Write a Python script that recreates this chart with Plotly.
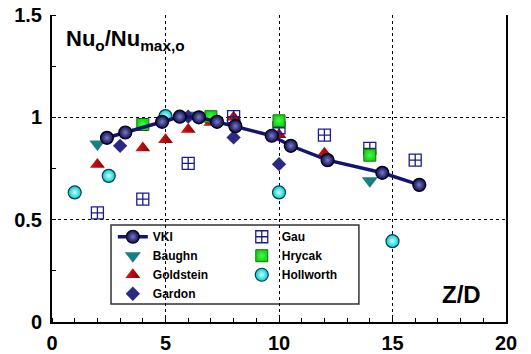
import plotly.graph_objects as go

# ---- data ----
vki_x = [2.42, 3.23, 4.85, 5.63, 6.47, 7.27, 8.08, 9.68, 10.52, 12.14, 14.55, 16.18]
vki_y = [0.900, 0.926, 0.978, 1.003, 1.000, 0.978, 0.957, 0.910, 0.861, 0.791, 0.729, 0.670]

baughn_x = [2, 6, 14]
baughn_y = [0.87, 1.01, 0.69]

goldstein_x = [2, 4, 5, 6, 7, 8, 10, 12]
goldstein_y = [0.77, 0.85, 0.89, 0.94, 0.975, 1.00, 0.915, 0.825]

gardon_x = [3, 6, 8, 10]
gardon_y = [0.861, 1.003, 0.902, 0.771]

gau_x = [2, 4, 6, 8, 10, 12, 14, 16]
gau_y = [0.533, 0.600, 0.775, 1.003, 0.949, 0.913, 0.848, 0.791]

hrycak_x = [4, 7, 10, 14]
hrycak_y = [0.965, 1.003, 0.983, 0.815]

hollworth_x = [1, 2.5, 5, 10, 15]
hollworth_y = [0.633, 0.714, 1.006, 0.633, 0.395]

x_ticks = [0, 5, 10, 15, 20]
x_tick_labels = ["0", "5", "10", "15", "20"]
y_ticks = [0, 0.5, 1, 1.5]
y_tick_labels = ["0", "0.5", "1", "1.5"]

NAVY = "#14146e"
LEGFONT = dict(size=12, family="Liberation Sans, Arial", weight="bold", color="black")

fig = go.Figure()

fig.add_trace(go.Scatter(
    x=baughn_x, y=baughn_y, mode="markers", name="Baughn", legend="legend", legendrank=2,
    marker=dict(symbol="triangle-down", size=14, color="#1a7f7f", line=dict(width=0)),
))
fig.add_trace(go.Scatter(
    x=goldstein_x, y=goldstein_y, mode="markers", name="Goldstein", legend="legend", legendrank=3,
    marker=dict(symbol="triangle-up", size=13, color="#d81818",
                gradient=dict(type="horizontal", color="#8a0000"), line=dict(width=0)),
))
fig.add_trace(go.Scatter(
    x=gardon_x, y=gardon_y, mode="markers", name="Gardon", legend="legend", legendrank=4,
    marker=dict(symbol="diamond", size=11, color="#2a2a80", line=dict(width=0)),
))
fig.add_trace(go.Scatter(
    x=gau_x, y=gau_y, mode="markers", name="Gau", legend="legend2", legendrank=5,
    marker=dict(symbol="square-cross-open", size=12, color="#1c1c8c", line=dict(width=1.3)),
))
fig.add_trace(go.Scatter(
    x=hrycak_x, y=hrycak_y, mode="markers", name="Hrycak", legend="legend2", legendrank=6,
    marker=dict(symbol="square", size=12, color="#18d018",
                gradient=dict(type="radial", color="#40ff40"),
                line=dict(width=1, color="#107010")),
))
fig.add_trace(go.Scatter(
    x=hollworth_x, y=hollworth_y, mode="markers", name="Hollworth", legend="legend2", legendrank=7,
    marker=dict(symbol="circle", size=13, color="#00c8d0",
                gradient=dict(type="radial", color="#c8ffff"),
                line=dict(width=1.2, color="#004050")),
))
fig.add_trace(go.Scatter(
    x=vki_x, y=vki_y, mode="lines+markers", name="VKI", legend="legend", legendrank=1,
    line=dict(color=NAVY, width=3.5),
    marker=dict(symbol="circle", size=13, color="#0a0a50",
                gradient=dict(type="radial", color="#7a7ac8"),
                line=dict(width=1.2, color="#000000")),
))

fig.update_layout(
    width=531, height=354,
    margin=dict(l=52, r=25, t=15, b=32, autoexpand=False),
    paper_bgcolor="white", plot_bgcolor="white",
    font=dict(family="Liberation Sans, Arial, sans-serif", color="black"),
    legend=dict(
        x=0.134, y=0.325, xanchor="left", yanchor="top",
        bgcolor="rgba(0,0,0,0)", borderwidth=0,
        font=LEGFONT, traceorder="normal", tracegroupgap=0,
    ),
    legend2=dict(
        x=0.418, y=0.325, xanchor="left", yanchor="top",
        bgcolor="rgba(0,0,0,0)", borderwidth=0,
        font=LEGFONT, traceorder="normal", tracegroupgap=0,
    ),
    showlegend=True,
)

fig.update_xaxes(
    range=[0, 20], tickvals=x_ticks, ticktext=x_tick_labels,
    showgrid=True, gridcolor="black", griddash="dot", gridwidth=1,
    showline=True, linecolor="black", linewidth=2, mirror=False,
    ticks="", zeroline=False, automargin=False,
    minor=dict(dtick=1, ticks="inside", ticklen=4, tickcolor="black", tickwidth=1, showgrid=False),
    tickfont=dict(size=20, family="Liberation Sans, Arial", weight="bold"),
    ticklabelstandoff=2,
)
fig.update_yaxes(
    range=[0, 1.5], tickvals=y_ticks, ticktext=y_tick_labels,
    showgrid=True, gridcolor="black", griddash="dot", gridwidth=1,
    showline=True, linecolor="black", linewidth=2, mirror=True,
    ticks="", zeroline=False, automargin=False,
    minor=dict(dtick=0.25, ticks="inside", ticklen=4, tickcolor="black", tickwidth=1, showgrid=False),
    tickfont=dict(size=20, family="Liberation Sans, Arial", weight="bold"),
    ticklabelstandoff=4,
)

# legend frame
fig.add_shape(
    type="rect", xref="paper", yref="paper",
    x0=0.130, x1=0.676, y0=0.0586, y1=0.316,
    line=dict(color="#333333", width=1.5), fillcolor="white", layer="between",
)

fig.add_annotation(
    text="Nu<sub>o</sub>/Nu<sub>max,o</sub>", xref="paper", yref="paper",
    x=0.026, y=0.92, xanchor="left", yanchor="middle", showarrow=False,
    font=dict(size=22, family="Liberation Sans, Arial", weight="bold", color="black"),
)
fig.add_annotation(
    text="Z/D", xref="paper", yref="paper",
    x=0.902, y=0.09, xanchor="center", yanchor="middle", showarrow=False,
    font=dict(size=24, family="Liberation Sans, Arial", weight="bold", color="black"),
)

fig.write_html("out.html", config={"displayModeBar": False},
               post_script="document.body.style.margin='0px';")
